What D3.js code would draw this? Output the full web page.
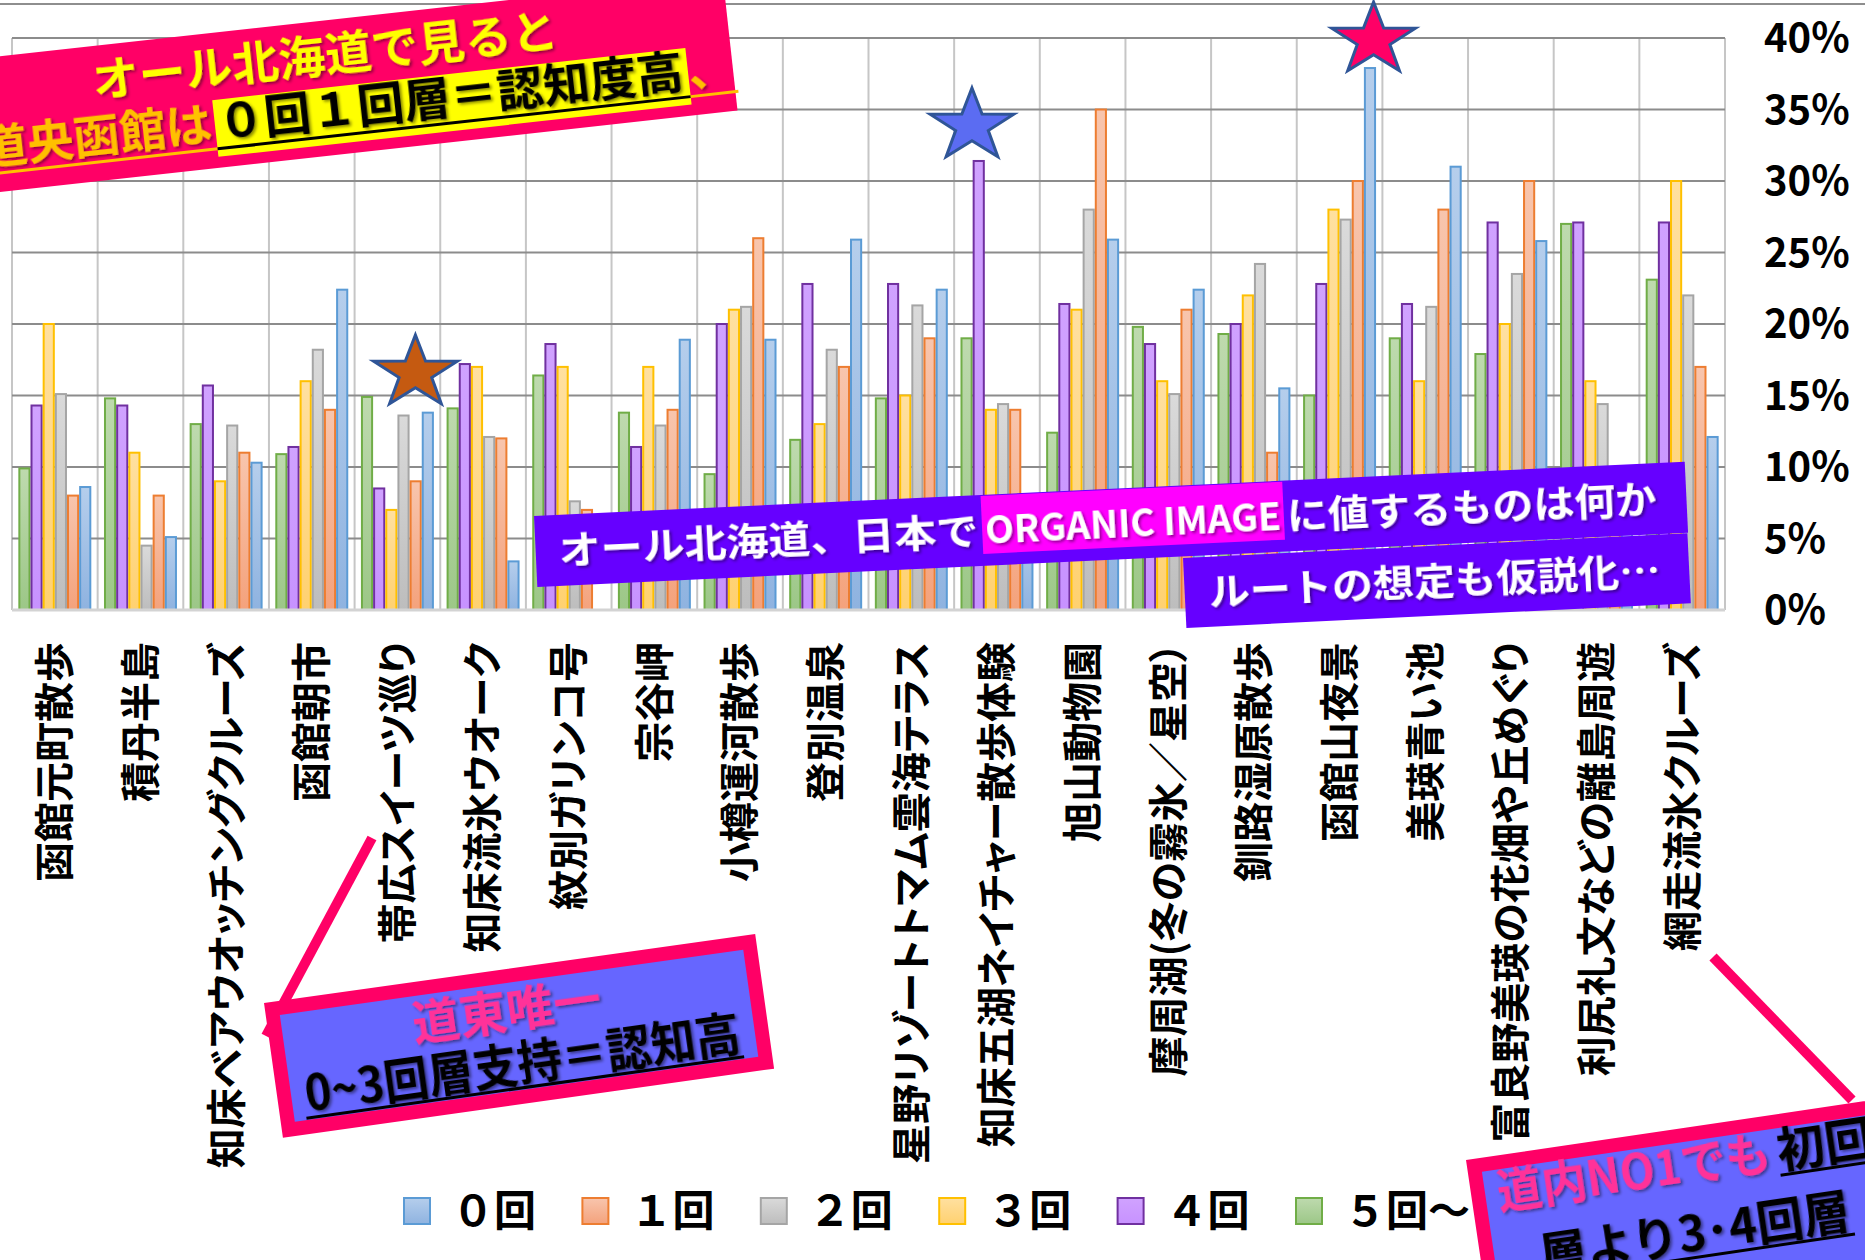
<!DOCTYPE html>
<html>
<head>
<meta charset="utf-8">
<script src="https://cdn.jsdelivr.net/npm/d3@7"></script>
<style>
  html, body { margin: 0; padding: 0; background: #fff; }
  svg { display: block; }
  text { font-family: "Noto Sans CJK JP", "Noto Sans", sans-serif; font-weight: 700; }
</style>
</head>
<body>
<svg id="chart" width="1865" height="1260"></svg>
<script>
// ---- data ----------------------------------------------------------------
const categories = [
  "函館元町散歩", "積丹半島", "知床ベアウオッチングクルーズ", "函館朝市",
  "帯広スイーツ巡り", "知床流氷ウオーク", "紋別ガリンコ号", "宗谷岬",
  "小樽運河散歩", "登別温泉", "星野リゾートトマム雲海テラス",
  "知床五湖ネイチャー散歩体験", "旭山動物園", "摩周湖(冬の霧氷／星空）",
  "釧路湿原散歩", "函館山夜景", "美瑛青い池", "富良野美瑛の花畑や丘めぐり",
  "利尻礼文などの離島周遊", "網走流氷クルーズ"
];
const seriesNames = ["０回", "１回", "２回", "３回", "４回", "５回～"];

// share of respondents (%) by number of previous visits
const visits0 = [8.6, 5.1, 10.3, 22.4, 13.8, 3.4, 0, 18.9, 18.9, 25.9, 22.4, 6.0, 25.9, 22.4, 15.5, 37.9, 31.0, 25.8, 6.0, 12.1];
const visits1 = [8.0, 8.0, 11.0, 14.0, 9.0, 12.0, 7.0, 14.0, 26.0, 17.0, 19.0, 14.0, 35.0, 21.0, 11.0, 30.0, 28.0, 30.0, 8.0, 17.0];
const visits2 = [15.1, 4.5, 12.9, 18.2, 13.6, 12.1, 7.6, 12.9, 21.2, 18.2, 21.3, 14.4, 28.0, 15.1, 24.2, 27.3, 21.2, 23.5, 14.4, 22.0];
const visits3 = [20.0, 11.0, 9.0, 16.0, 7.0, 17.0, 17.0, 17.0, 21.0, 13.0, 15.0, 14.0, 21.0, 16.0, 22.0, 28.0, 16.0, 20.0, 16.0, 30.0];
const visits4 = [14.3, 14.3, 15.7, 11.4, 8.5, 17.2, 18.6, 11.4, 20.0, 22.8, 22.8, 31.4, 21.4, 18.6, 20.0, 22.8, 21.4, 27.1, 27.1, 27.1];
const visits5 = [9.9, 14.8, 13.0, 10.9, 14.9, 14.1, 16.4, 13.8, 9.5, 11.9, 14.8, 19.0, 12.4, 19.8, 19.3, 15.0, 19.0, 17.9, 27.0, 23.1];

const tickValues = [0, 5, 10, 15, 20, 25, 30, 35, 40];
const tickLabels = ["0%", "5%", "10%", "15%", "20%", "25%", "30%", "35%", "40%"];

// ---- styles ----------------------------------------------------------------
const seriesValues = {
  "０回": visits0, "１回": visits1, "２回": visits2,
  "３回": visits3, "４回": visits4, "５回～": visits5
};
const barOrder = seriesNames.slice().reverse();   // 5回～ drawn first within each group
const palette = {
  "０回": { top: "#B5CEEC", bottom: "#8FB3E0", stroke: "#5B9BD5" },
  "１回": { top: "#F8C5AD", bottom: "#F4A27C", stroke: "#ED7D31" },
  "２回": { top: "#DADADA", bottom: "#BDBDBD", stroke: "#A5A5A5" },
  "３回": { top: "#FFE0A0", bottom: "#FFD170", stroke: "#FFC000" },
  "４回": { top: "#D0A2FF", bottom: "#C792FF", stroke: "#7030A0" },
  "５回～": { top: "#BEDAAE", bottom: "#9CC787", stroke: "#70AD47" }
};

const svg = d3.select("#chart");
const defs = svg.append("defs");

seriesNames.forEach((s, i) => {
  const g = defs.append("linearGradient").attr("id", "grad" + i)
    .attr("x1", 0).attr("y1", 0).attr("x2", 0).attr("y2", 1);
  g.append("stop").attr("offset", "0%").attr("stop-color", palette[s].top);
  g.append("stop").attr("offset", "100%").attr("stop-color", palette[s].bottom);
});
const gradId = s => "url(#grad" + seriesNames.indexOf(s) + ")";

defs.append("filter").attr("id", "txtShadow")
  .attr("x", "-10%").attr("y", "-30%").attr("width", "120%").attr("height", "170%")
  .append("feDropShadow").attr("dx", 2).attr("dy", 2).attr("stdDeviation", 1.4)
  .attr("flood-color", "#000").attr("flood-opacity", 0.45);

// ---- scales ----------------------------------------------------------------
const plot = { left: 12, right: 1725, top: 38, bottom: 610 };
const x0 = d3.scaleBand().domain(categories)
  .range([plot.left, plot.right]).paddingInner(0.148).paddingOuter(0.074);
const x1 = d3.scaleBand().domain(barOrder).range([0, x0.bandwidth()]);
const y = d3.scaleLinear().domain([0, 40]).range([plot.bottom, plot.top]);

// chart frame line along the top
svg.append("line").attr("x1", 0).attr("x2", 1865).attr("y1", 4).attr("y2", 4)
  .attr("stroke", "#8E8E8E").attr("stroke-width", 2);

// vertical gridlines at category boundaries
const bounds = d3.range(categories.length + 1).map(i => plot.left + i * x0.step());
svg.append("g").selectAll("line").data(bounds).join("line")
  .attr("x1", d => d).attr("x2", d => d)
  .attr("y1", y(40)).attr("y2", y(0))
  .attr("stroke", "#C6C6C6").attr("stroke-width", 2);

// horizontal gridlines
svg.append("g").selectAll("line").data(tickValues.filter(v => v > 0)).join("line")
  .attr("x1", plot.left).attr("x2", plot.right)
  .attr("y1", d => y(d)).attr("y2", d => y(d))
  .attr("stroke", "#8C8C8C").attr("stroke-width", 2.2);

// ---- bars --------------------------------------------------------------------
const groups = svg.append("g").selectAll("g").data(categories).join("g")
  .attr("transform", d => `translate(${x0(d)},0)`);
groups.selectAll("rect")
  .data((c, ci) => barOrder.map(s => ({ s, v: seriesValues[s][ci] })))
  .join("rect")
  .filter(d => d.v > 0)
  .attr("x", d => x1(d.s) + 1)
  .attr("width", x1.bandwidth() - 2)
  .attr("y", d => y(d.v))
  .attr("height", d => y(0) - y(d.v))
  .attr("fill", d => gradId(d.s))
  .attr("stroke", d => palette[d.s].stroke)
  .attr("stroke-width", 2);

// category axis line
svg.append("line").attr("x1", plot.left).attr("x2", plot.right)
  .attr("y1", y(0)).attr("y2", y(0))
  .attr("stroke", "#D3D3D3").attr("stroke-width", 3);

// ---- value axis labels (right) ------------------------------------------------
svg.append("g").selectAll("text").data(tickValues).join("text")
  .attr("x", 1764).attr("y", d => y(d)).attr("dy", "0.36em")
  .attr("font-size", 40).attr("fill", "#000")
  .text((d, i) => tickLabels[i]);

// ---- category labels (rotated) ------------------------------------------------
svg.append("g").selectAll("text").data(categories).join("text")
  .attr("transform", d => `translate(${x0(d) + x0.bandwidth() / 2},642) rotate(-90)`)
  .attr("text-anchor", "end").attr("dy", "0.36em")
  .attr("font-size", 40).attr("fill", "#000")
  .style("font-feature-settings", '"palt" 1')
  .text(d => d);

// ---- legend -------------------------------------------------------------------
const legend = svg.append("g").selectAll("g").data(seriesNames).join("g")
  .attr("transform", (d, i) => `translate(${404 + i * 178.4},1211)`);
legend.append("rect").attr("x", 0).attr("y", -13).attr("width", 26).attr("height", 26)
  .attr("fill", d => gradId(d)).attr("stroke", d => palette[d].stroke).attr("stroke-width", 2);
legend.append("text").attr("x", 48).attr("dy", "0.36em")
  .attr("font-size", 42).attr("fill", "#000").text(d => d);

// ---- annotations -------------------------------------------------------------
function seg(parent, o) {
  const t = parent.append("text")
    .attr("x", o.x).attr("y", o.y)
    .attr("font-size", o.size).attr("fill", o.fill)
    .attr("text-anchor", o.anchor || "start")
    .text(o.text);
  if (o.len) t.attr("textLength", o.len).attr("lengthAdjust", "spacingAndGlyphs");
  if (o.shadow !== false) t.attr("filter", "url(#txtShadow)");
  return t;
}
function uline(parent, xa, xb, yy, color, w) {
  parent.append("line").attr("x1", xa).attr("x2", xb).attr("y1", yy).attr("y2", yy)
    .attr("stroke", color).attr("stroke-width", w || 3);
}
function starPath(cx, cy, rx, ry, inner) {
  const pts = d3.range(10).map(k => {
    const a = (-90 + k * 36) * Math.PI / 180;
    const r = k % 2 === 0 ? 1 : inner;
    return [cx + rx * r * Math.cos(a), cy + ry * r * Math.sin(a)];
  });
  return "M" + pts.map(p => p.join(",")).join("L") + "Z";
}

// stars above highlighted groups
const stars = [
  { cat: "帯広スイーツ巡り", dx: 18, top: 335, fill: "#C55A11" },
  { cat: "知床五湖ネイチャー散歩体験", dx: -25, top: 88, fill: "#5B6CF2" },
  { cat: "函館山夜景", dx: 34, top: 2, fill: "#FF0066" }
];
svg.append("g").selectAll("path").data(stars).join("path")
  .attr("d", d => starPath(x0(d.cat) + x0.bandwidth() / 2 + d.dx, d.top + 38, 44, 38, 0.39))
  .attr("fill", d => d.fill).attr("stroke", "#2F5597").attr("stroke-width", 3)
  .attr("stroke-linejoin", "miter");

// top-left banner
const b1 = svg.append("g").attr("transform", "translate(0,192) rotate(-6.3)");
b1.append("rect").attr("x", -60).attr("y", -135).attr("width", 802).attr("height", 135).attr("fill", "#FF0066");
seg(b1, { x: 104, y: -84, text: "オール北海道で見ると", len: 468, size: 46, fill: "#FFFF00" });
seg(b1, { x: -14, y: -29, text: "道央函館は", len: 232, size: 46, fill: "#FFC000" });
uline(b1, -14, 221, -19, "#FFC000", 3);
b1.append("rect").attr("x", 221).attr("y", -68).attr("width", 476).attr("height", 57).attr("fill", "#FFFF00");
seg(b1, { x: 224, y: -29, text: "０回１回層＝認知度高", len: 468, size: 46, fill: "#000" });
uline(b1, 221, 697, -19, "#000", 3);
seg(b1, { x: 697, y: -29, text: "、", size: 46, fill: "#FFC000" });
uline(b1, 697, 745, -19, "#FFC000", 3);

// purple banner: organic image question
const b2 = svg.append("g").attr("transform", "translate(534,516) rotate(-2.7)");
b2.append("rect").attr("x", 0).attr("y", 0).attr("width", 1152).attr("height", 71).attr("fill", "#6600FF");
b2.append("rect").attr("x", 447).attr("y", 1).attr("width", 302).attr("height", 58).attr("fill", "#FF00FF");
seg(b2, { x: 23, y: 49, text: "オール北海道、日本で", len: 420, size: 38, fill: "#fff" });
seg(b2, { x: 450, y: 49, text: "ORGANIC IMAGE", len: 296, size: 38, fill: "#fff" });
seg(b2, { x: 752, y: 49, text: "に値するものは何か", len: 370, size: 38, fill: "#fff" });

// purple banner: route hypothesis
const b3 = svg.append("g").attr("transform", "translate(1183,558) rotate(-2.8)");
b3.append("rect").attr("x", 0).attr("y", 0).attr("width", 505).attr("height", 70).attr("fill", "#6600FF");
seg(b3, { x: 24, y: 49, text: "ルートの想定も仮説化…", len: 452, size: 38, fill: "#fff" });

// connector lines
svg.append("line").attr("x1", 372).attr("y1", 838).attr("x2", 266).attr("y2", 1036)
  .attr("stroke", "#FF0066").attr("stroke-width", 10);
svg.append("line").attr("x1", 1713).attr("y1", 957).attr("x2", 1852).attr("y2", 1100)
  .attr("stroke", "#FF0066").attr("stroke-width", 10);

// bottom-left note
const n1 = svg.append("g").attr("transform", "translate(264,1003) rotate(-8)");
n1.append("rect").attr("x", 7).attr("y", 7).attr("width", 482).attr("height", 122)
  .attr("fill", "#6666FF").attr("stroke", "#FF0066").attr("stroke-width", 14);
seg(n1, { x: 239, y: 59, text: "道東唯一", len: 190, size: 48, fill: "#FF3399", anchor: "middle" });
seg(n1, { x: 28, y: 113, text: "0~3回層支持＝認知高", len: 439, size: 48, fill: "#000" });
uline(n1, 26, 468, 120, "#000", 3);

// bottom-right note
const n2 = svg.append("g").attr("transform", "translate(1466,1160) rotate(-8.4)");
n2.append("rect").attr("x", 7).attr("y", 7).attr("width", 600).attr("height", 200)
  .attr("fill", "#6666FF").attr("stroke", "#FF0066").attr("stroke-width", 14);
seg(n2, { x: 26, y: 54, text: "道内NO1でも", len: 276, size: 48, fill: "#FF3399" });
seg(n2, { x: 309, y: 54, text: "初回", len: 96, size: 48, fill: "#000" });
uline(n2, 309, 420, 61, "#000", 3);
seg(n2, { x: 59, y: 123, text: "層より3･4回層", len: 313, size: 48, fill: "#000" });
uline(n2, 59, 374, 130, "#000", 3);
</script>
</body>
</html>
